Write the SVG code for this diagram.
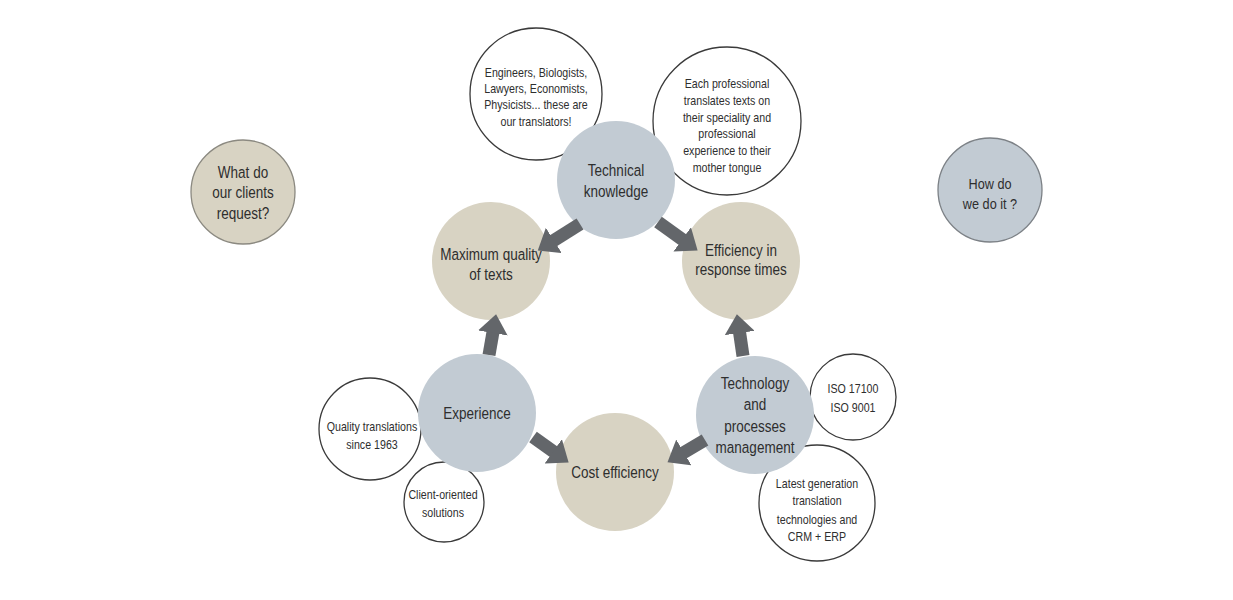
<svg xmlns="http://www.w3.org/2000/svg" width="1233" height="600" viewBox="0 0 1233 600">
<style>
.bg{fill:#ffffff}
.note{fill:#ffffff;stroke:#3a3a3a;stroke-width:1.3}
.beige{fill:#d8d3c3}
.blue{fill:#c2cbd3}
.t{font-family:"Liberation Sans",Arial,sans-serif;fill:#2e2e2e;text-anchor:middle}
.m{font-size:16.5px}
.s{font-size:13px}
.conn{fill:none;stroke:#63666a;stroke-width:13}
</style>
<defs>
<marker id="ah" markerUnits="userSpaceOnUse" markerWidth="20" markerHeight="30" refX="1" refY="15" orient="auto" viewBox="0 0 20 30">
<path d="M0,0 L19,15 L0,30 z" fill="#63666a"/>
</marker>
</defs>
<rect class="bg" x="0" y="0" width="1233" height="600"/>

<g id="note-engineers">
<circle class="note" cx="536" cy="94" r="66"/>
<text class="t s" transform="matrix(0.82 0 0 1 536 0)"><tspan x="0" y="77">Engineers, Biologists,</tspan><tspan x="0" y="93">Lawyers, Economists,</tspan><tspan x="0" y="109">Physicists... these are</tspan><tspan x="0" y="126">our translators!</tspan></text>
</g>
<g id="note-professional">
<circle class="note" cx="727" cy="121" r="74"/>
<text class="t s" transform="matrix(0.82 0 0 1 727 0)"><tspan x="0" y="88">Each professional</tspan><tspan x="0" y="105">translates texts on</tspan><tspan x="0" y="122">their speciality and</tspan><tspan x="0" y="138">professional</tspan><tspan x="0" y="155">experience to their</tspan><tspan x="0" y="172">mother tongue</tspan></text>
</g>
<g id="note-iso">
<circle class="note" cx="853" cy="397" r="43"/>
<text class="t s" transform="matrix(0.82 0 0 1 853 0)"><tspan x="0" y="393">ISO 17100</tspan><tspan x="0" y="412">ISO 9001</tspan></text>
</g>
<g id="note-latest">
<circle class="note" cx="817" cy="503" r="58"/>
<text class="t s" transform="matrix(0.82 0 0 1 817 0)"><tspan x="0" y="488">Latest generation</tspan><tspan x="0" y="505">translation</tspan><tspan x="0" y="524">technologies and</tspan><tspan x="0" y="541">CRM + ERP</tspan></text>
</g>
<g id="note-quality">
<circle class="note" cx="370" cy="429" r="51"/>
<text class="t s" transform="matrix(0.82 0 0 1 372 0)"><tspan x="0" y="431">Quality translations</tspan><tspan x="0" y="449">since 1963</tspan></text>
</g>
<g id="note-client">
<circle class="note" cx="444" cy="502" r="40"/>
<text class="t s" transform="matrix(0.82 0 0 1 443 0)"><tspan x="0" y="499">Client-oriented</tspan><tspan x="0" y="517">solutions</tspan></text>
</g>

<g id="node-what">
<circle cx="243" cy="192" r="52" fill="#d8d3c3" stroke="#8b8980" stroke-width="1.3"/>
<text class="t m" fill="#1e1e1e" transform="matrix(0.82 0 0 1 243 0)"><tspan x="0" y="178">What do</tspan><tspan x="0" y="198">our clients</tspan><tspan x="0" y="219">request?</tspan></text>
</g>
<g id="node-how">
<circle cx="990" cy="190" r="52" fill="#c2cbd3" stroke="#7c8186" stroke-width="1.3"/>
<text class="t" font-size="15.5" transform="matrix(0.82 0 0 1 990 0)"><tspan x="0" y="189">How do</tspan><tspan x="0" y="209">we do it ?</tspan></text>
</g>

<g id="node-technical">
<circle class="blue" cx="616" cy="180" r="59"/>
<text class="t m" transform="matrix(0.82 0 0 1 616 0)"><tspan x="0" y="176">Technical</tspan><tspan x="0" y="197">knowledge</tspan></text>
</g>
<g id="node-quality">
<circle class="beige" cx="491" cy="261" r="59"/>
<text class="t m" transform="matrix(0.82 0 0 1 491 0)"><tspan x="0" y="260">Maximum quality</tspan><tspan x="0" y="280">of texts</tspan></text>
</g>
<g id="node-efficiency">
<circle class="beige" cx="741" cy="261" r="59"/>
<text class="t m" transform="matrix(0.82 0 0 1 741 0)"><tspan x="0" y="256">Efficiency in</tspan><tspan x="0" y="275">response times</tspan></text>
</g>
<g id="node-experience">
<circle class="blue" cx="477" cy="413" r="59"/>
<text class="t m" transform="matrix(0.82 0 0 1 477 0)" x="0" y="419">Experience</text>
</g>
<g id="node-technology">
<circle class="blue" cx="755" cy="415" r="59"/>
<text class="t m" transform="matrix(0.82 0 0 1 755 0)"><tspan x="0" y="389">Technology</tspan><tspan x="0" y="410">and</tspan><tspan x="0" y="432">processes</tspan><tspan x="0" y="453">management</tspan></text>
</g>
<g id="node-cost">
<circle class="beige" cx="615" cy="472" r="59"/>
<text class="t m" transform="matrix(0.82 0 0 1 615 0)" x="0" y="478">Cost efficiency</text>
</g>

<g id="connectors">
<path class="conn" d="M580,224 L553,241" marker-end="url(#ah)"/>
<path class="conn" d="M658,222 L683,240" marker-end="url(#ah)"/>
<path class="conn" d="M489,355 L493,332" marker-end="url(#ah)"/>
<path class="conn" d="M743,356 L739.5,332" marker-end="url(#ah)"/>
<path class="conn" d="M533,437 L554,452" marker-end="url(#ah)"/>
<path class="conn" d="M705,440 L683,453" marker-end="url(#ah)"/>
</g>
</svg>
